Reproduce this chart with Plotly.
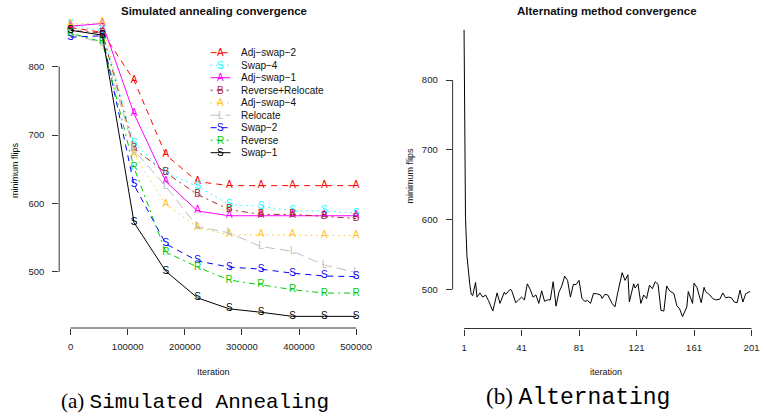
import plotly.graph_objects as go

W, H = 764, 419

# ---------------- data: simulated annealing ----------------
sa_iterations = [0, 55556, 111111, 166667, 222222, 277778, 333333, 388889, 444444, 500000]
sa_names = ["Adj−swap−2", "Swap−4", "Adj−swap−1", "Reverse+Relocate", "Adj−swap−4",
            "Relocate", "Swap−2", "Reverse", "Swap−1"]
sa_letters = ["A", "S", "A", "B", "A", "L", "S", "R", "S"]
adj_swap_2 = [857, 850, 780, 671, 632, 626, 626, 626, 626, 626]
swap_4 = [861, 852, 688, 645, 625, 598, 596, 589, 589, 586]
adj_swap_1 = [859, 863, 731, 632, 589, 582, 582, 582, 582, 582]
reverse_relocate = [853, 849, 680, 645, 613, 591, 584, 584, 581, 578]
adj_swap_4 = [862, 864, 672, 599, 565, 554, 554, 554, 553, 553]
relocate = [848, 834, 678, 625, 566, 557, 537, 530, 510, 499]
swap_2 = [843, 845, 627, 541, 516, 507, 504, 498, 494, 493]
reverse = [849, 836, 652, 529, 507, 488, 481, 474, 469, 469]
swap_1 = [853, 846, 572, 501, 462, 446, 441, 435, 435, 435]
sa_series = [adj_swap_2, swap_4, adj_swap_1, reverse_relocate, adj_swap_4,
             relocate, swap_2, reverse, swap_1]
sa_x_ticks = [0, 100000, 200000, 300000, 400000, 500000]
sa_x_ticktext = ["0", "100000", "200000", "300000", "400000", "500000"]
sa_y_ticks = [500, 600, 700, 800]

# ---------------- data: alternating method ----------------
alt_iter = [1, 2, 3, 4, 5, 6, 7, 9, 10, 12, 14, 16, 18, 21, 23, 24, 26, 29, 30, 33, 34, 37, 39,
            41, 43, 45, 47, 49, 51, 53, 55, 57, 59, 61, 63, 65, 67, 69, 71, 73, 75, 77, 79, 81,
            83, 85, 87, 89, 91, 93, 96, 97, 99, 101, 104, 106, 108, 109, 111, 113, 115, 116,
            119, 120, 122, 124, 126, 128, 130, 132, 134, 136, 138, 140, 142, 144, 145, 147,
            149, 151, 153, 156, 157, 160, 161, 163, 166, 168, 169, 172, 174, 176, 179, 181,
            183, 185, 187, 189, 191, 193, 195, 197, 199, 200]
alt_flips = [872, 603, 548, 524, 507, 493, 491, 510, 489, 495, 489, 492, 484, 469, 489, 495,
             480, 496, 493, 500, 499, 481, 485, 489, 485, 508, 500, 489, 492, 480, 498, 483,
             485, 485, 511, 476, 496, 505, 519, 513, 489, 507, 507, 513, 487, 483, 484, 480,
             494, 494, 492, 487, 493, 492, 480, 475, 496, 506, 524, 513, 521, 482, 508, 502,
             508, 480, 492, 487, 506, 501, 511, 507, 470, 469, 505, 498, 497, 494, 477, 472,
             461, 475, 497, 480, 509, 503, 481, 503, 497, 492, 487, 485, 486, 495, 488, 489,
             488, 482, 481, 499, 482, 494, 496, 497]
alt_x_ticks = [1, 41, 81, 121, 161, 201]
alt_y_ticks = [500, 600, 700, 800]

# ---------------- styles ----------------
colors = ["#FF0000", "#00FFFF", "#FF00FF", "#A52A2A", "#FFC125",
          "#BEBEBE", "#0000FF", "#00CD00", "#000000"]
dashes = ["6px,5px", "1.5px,4px", "solid", "2px,4px,6px,4px", "1.5px,4px",
          "10px,5px", "6px,5px", "2px,4px,6px,4px", "solid"]

def px_x(p):
    return p / W

def px_y(p):
    return 1 - p / H

# axis geometry
sa_xdom = [px_x(59.5), px_x(369.5)]
sa_ydom = [px_y(328), px_y(12.5)]
sa_xrng = [-20000, 520000]
sa_yrng = [418, 879]
alt_xdom = [px_x(455), 1.0]
alt_ydom = [px_y(328.5), px_y(18.3)]
alt_xrng = [-6.96, 206.9]
alt_yrng = [444, 888.5]

def to_paper(v, rng, dom):
    return dom[0] + (v - rng[0]) / (rng[1] - rng[0]) * (dom[1] - dom[0])

fig = go.Figure()

for name, letter, vals, col, dash in zip(sa_names, sa_letters, sa_series, colors, dashes):
    fig.add_trace(go.Scatter(
        x=sa_iterations, y=vals, mode="lines+text", name=name,
        text=[letter] * len(vals), textposition="middle center",
        textfont=dict(family="Liberation Sans, Arial", size=10, color=col),
        line=dict(color=col, width=1, dash=dash),
        xaxis="x", yaxis="y", showlegend=False, cliponaxis=False))

fig.add_trace(go.Scatter(
    x=alt_iter, y=alt_flips, mode="lines", line=dict(color="black", width=1),
    xaxis="x2", yaxis="y2", showlegend=False))

tickfont = dict(family="Liberation Sans, Arial", size=9.5, color="#1a1a1a")
common_axis = dict(showgrid=False, zeroline=False, showline=False, ticks="outside",
                   ticklen=6, tickwidth=1, tickcolor="#333", tickfont=tickfont,
                   fixedrange=True, ticklabeloverflow="allow")

fig.update_layout(
    width=W, height=H,
    margin=dict(l=0, r=0, t=0, b=0),
    paper_bgcolor="white", plot_bgcolor="white",
    xaxis=dict(domain=sa_xdom, range=sa_xrng,
               tickvals=sa_x_ticks, ticktext=sa_x_ticktext, anchor="y",
               ticklabelstandoff=4, **common_axis),
    yaxis=dict(domain=sa_ydom, range=sa_yrng,
               tickvals=sa_y_ticks, anchor="x", ticklabelstandoff=6, **common_axis),
    xaxis2=dict(domain=alt_xdom, range=alt_xrng,
                tickvals=alt_x_ticks, anchor="y2", ticklabelstandoff=4, **common_axis),
    yaxis2=dict(domain=alt_ydom, range=alt_yrng,
                tickvals=alt_y_ticks, anchor="x2", ticklabelstandoff=6, **common_axis),
)

# R-style axis lines spanning first to last tick (paper coords, so never clipped)
shape_line = dict(color="#333", width=1)
def axis_lines(xt, yt, xrng, yrng, xdom, ydom):
    fig.add_shape(type="line", xref="paper", yref="paper",
                  x0=to_paper(xt[0], xrng, xdom), x1=to_paper(xt[-1], xrng, xdom),
                  y0=ydom[0], y1=ydom[0], line=shape_line)
    fig.add_shape(type="line", xref="paper", yref="paper",
                  x0=xdom[0], x1=xdom[0],
                  y0=to_paper(yt[0], yrng, ydom), y1=to_paper(yt[-1], yrng, ydom),
                  line=shape_line)

axis_lines(sa_x_ticks, sa_y_ticks, sa_xrng, sa_yrng, sa_xdom, sa_ydom)
axis_lines(alt_x_ticks, alt_y_ticks, alt_xrng, alt_yrng, alt_xdom, alt_ydom)

# Manual R-style legend
for i, (name, letter, col, dash) in enumerate(zip(sa_names, sa_letters, colors, dashes)):
    yy = 52.7 + 12.5 * i
    fig.add_shape(type="line", xref="paper", yref="paper",
                  x0=px_x(211.7), x1=px_x(231.7), y0=px_y(yy), y1=px_y(yy),
                  line=dict(color=col, width=1, dash=dash))
    fig.add_annotation(x=px_x(221.7), y=px_y(yy), xref="paper", yref="paper",
                       text=letter, showarrow=False, xanchor="center", yanchor="middle",
                       font=dict(family="Liberation Sans, Arial", size=10, color=col))
    fig.add_annotation(x=px_x(240.7), y=px_y(yy), xref="paper", yref="paper",
                       text=name, showarrow=False, xanchor="left", yanchor="middle",
                       font=dict(family="Liberation Sans, Arial", size=10, color="#111"))

def label(x, y, text, size, bold=False, angle=0):
    fig.add_annotation(x=px_x(x), y=px_y(y), xref="paper", yref="paper",
                       text=f"<b>{text}</b>" if bold else text, showarrow=False,
                       xanchor="center", yanchor="middle", textangle=angle,
                       font=dict(family="Liberation Sans, Arial", size=size, color="#111"))

label(215, 11, "Simulated annealing convergence", 11.5, bold=True)
label(610, 11, "Alternating method convergence", 11.5, bold=True)
label(215, 372, "Iteration", 9)
label(609, 372, "iteration", 9)
label(15, 170, "minimum flips", 9, angle=-90)
label(411.7, 176, "minimum flips", 9, angle=-90)

serif = "font-family:Liberation Serif"
mono = "font-family:Liberation Mono"
fig.add_annotation(x=px_x(196.5), y=px_y(401), xref="paper", yref="paper", showarrow=False,
                   xanchor="center", yanchor="middle",
                   text=f'<span style="{serif}">(a) </span><span style="{mono}">Simulated Annealing</span>',
                   font=dict(size=21, color="black"))
fig.add_annotation(x=px_x(581.5), y=px_y(397), xref="paper", yref="paper", showarrow=False,
                   xanchor="center", yanchor="middle",
                   text=f'<span style="{serif}">(b) </span><span style="{mono}">Alternating</span>',
                   font=dict(size=23, color="black"))

fig.write_html("out.html", config={"displayModeBar": False, "staticPlot": True},
               post_script="document.body.style.margin='0';document.body.style.overflow='hidden';")
